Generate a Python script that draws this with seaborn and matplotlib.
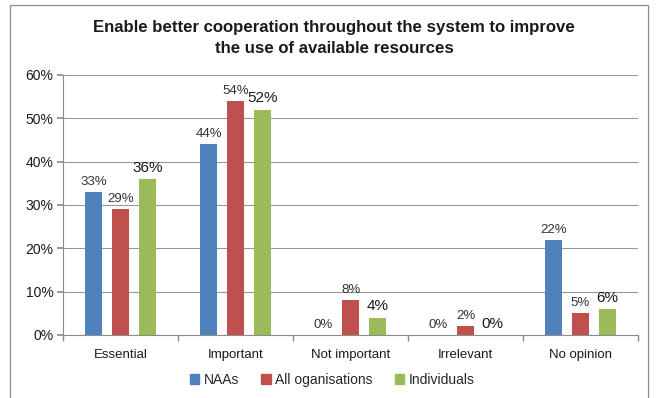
import matplotlib
matplotlib.use("Agg")
import matplotlib.pyplot as plt
import seaborn as sns
import pandas as pd
from matplotlib.patches import Rectangle
from matplotlib.ticker import PercentFormatter, FixedLocator

categories = ["Essential", "Important", "Not important", "Irrelevant", "No opinion"]
series = ["NAAs", "All oganisations", "Individuals"]
naas = [33, 44, 0, 0, 22]
all_orgs = [29, 54, 8, 2, 5]
individuals = [36, 52, 4, 0, 6]
colors = ["#4F81BD", "#C0504D", "#9BBB59"]
title = "Enable better cooperation throughout the system to improve\nthe use of available resources"

rows = []
for s, vals in zip(series, [naas, all_orgs, individuals]):
    for c, v in zip(categories, vals):
        rows.append({"cat": c, "series": s, "val": v})
df = pd.DataFrame(rows)

sns.set_theme(style="white")
plt.rcParams["font.family"] = ["Liberation Sans", "DejaVu Sans"]

fig = plt.figure(figsize=(6.56, 3.98), dpi=100)
ax = fig.add_axes([63/656, 1-335/398, (638-63)/656, (335-75)/398])

sns.barplot(data=df, x="cat", y="val", hue="series", palette=colors,
            order=categories, hue_order=series, width=0.704, dodge=True,
            ax=ax, legend=False, saturation=1, errorbar=None)

bw = 17/115
for p in ax.patches:
    cx = p.get_x() + p.get_width()/2
    p.set_width(bw)
    p.set_x(cx - bw/2)
    p.set_edgecolor("none")

# value labels
offs = [-27/115, 0, 27/115]
for si, vals in enumerate([naas, all_orgs, individuals]):
    for ci, v in enumerate(vals):
        x = ci + offs[si]
        if si == 2:
            ax.annotate(f"{v}%", (x, v), xytext=(0, 3), textcoords="offset points",
                        ha="center", va="bottom", fontsize=11, color="#1a1a1a")
        else:
            ax.annotate(f"{v}%", (x, v), xytext=(0, 3), textcoords="offset points",
                        ha="center", va="bottom", fontsize=9.5, color="#333333")

ax.set_ylim(0, 60)
ax.set_xlim(-0.5, 4.5)
ax.set_yticks(range(0, 61, 10))
ax.yaxis.set_major_formatter(PercentFormatter(decimals=0))
ax.yaxis.grid(True, color="#999999", linewidth=0.8)
ax.set_axisbelow(True)
ax.set_xlabel("")
ax.set_ylabel("")
for side in ["top", "right"]:
    ax.spines[side].set_visible(False)
for side in ["left", "bottom"]:
    ax.spines[side].set_color("#8c8c8c")
    ax.spines[side].set_linewidth(0.8)
ax.tick_params(axis="y", which="major", left=True, length=4, color="#8c8c8c",
               labelsize=10, labelcolor="#1a1a1a", pad=3)
ax.tick_params(axis="x", which="major", bottom=False, labelsize=9.5,
               labelcolor="#1a1a1a", pad=4)
ax.xaxis.set_minor_locator(FixedLocator([-0.5, 0.5, 1.5, 2.5, 3.5, 4.5]))
ax.tick_params(axis="x", which="minor", bottom=True, length=4, color="#8c8c8c")

# legend
handles = [Rectangle((0, 0), 1, 1, color=c) for c in colors]
fig.legend(handles, series, loc="center", bbox_to_anchor=(332/656, 1-380/398),
           ncol=3, frameon=False, fontsize=10, handlelength=0.7, handleheight=0.7,
           handletextpad=0.3, columnspacing=1.6)

fig.text(334/656, 1-38/398, title, ha="center", va="center", fontsize=12.1,
         fontweight="bold", color="#1a1a1a", linespacing=1.45)

# outer frame (bottom edge falls outside the image)
fig.patches.append(Rectangle((10/656, -5/398), (648-10)/656, (398-5+5)/398,
                             transform=fig.transFigure, fill=False,
                             edgecolor="#8c8c8c", linewidth=0.9))

fig.savefig("out.png", dpi=100)
